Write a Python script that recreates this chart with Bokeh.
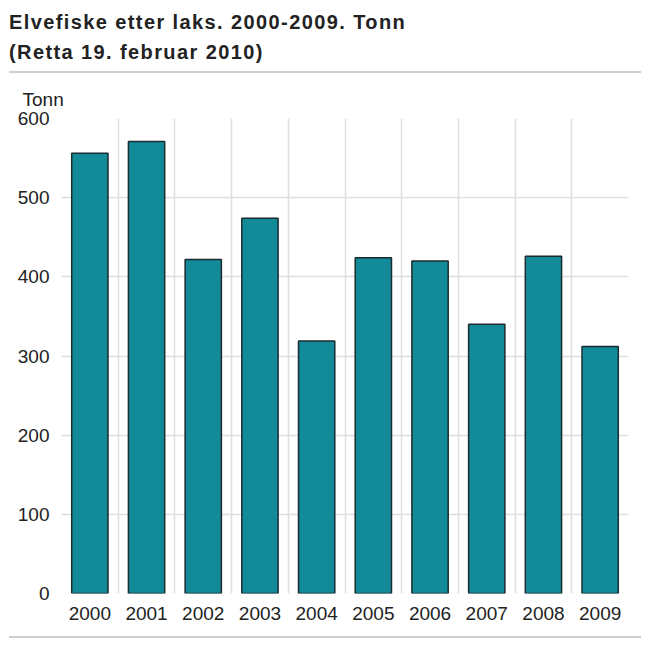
from bokeh.plotting import figure
from bokeh.models import Div, Range1d, FixedTicker, Title
from bokeh.layouts import column
from bokeh.embed import file_html
from bokeh.resources import INLINE
import numpy as np

# data
years = ["2000", "2001", "2002", "2003", "2004", "2005", "2006", "2007", "2008", "2009"]
tonn = [556, 571, 422, 474, 319, 424, 420, 340, 426, 312]
y_ticks = [0, 100, 200, 300, 400, 500, 600]

FONT = "Liberation Sans"
BAR = "#138a97"
GRID = "#dedee3"

# title block with the grey rule under it
title_html = (
    '<div style="position:relative;width:635px;height:68px;">'
    '<div style="position:absolute;left:4px;top:2px;font-family:\'Liberation Sans\';'
    'font-weight:bold;font-size:20px;line-height:30px;letter-spacing:1.4px;color:#222;white-space:nowrap;">'
    'Elvefiske etter laks. 2000-2009. Tonn<br>(Retta 19. februar 2010)</div>'
    '<div style="position:absolute;left:4px;top:66px;width:632px;height:2px;background:#cfcfcf;"></div>'
    '</div>'
)
head = Div(text=title_html, width=635, height=68)

p = figure(width=635, height=545, output_backend="svg", toolbar_location=None,
           x_range=Range1d(0, len(years)), y_range=Range1d(0, 600),
           min_border_left=61, min_border_right=7, min_border_top=37, min_border_bottom=30)

xs = np.arange(len(years)) + 0.5
p.vbar(x=xs, top=tonn, width=0.64, fill_color=BAR, line_color="#1c2b30", line_width=1.5)

# unit label above the axis
p.add_layout(Title(text="Tonn", align="left", offset=-39, standoff=17, text_font=FONT,
                   text_font_size="19px", text_font_style="normal", text_color="#222"), "above")

p.xaxis.ticker = FixedTicker(ticks=list(xs))
p.xaxis.major_label_overrides = {float(x): y for x, y in zip(xs, years)}
p.xaxis.major_label_standoff = 7
p.yaxis.ticker = FixedTicker(ticks=y_ticks)
p.yaxis.major_label_standoff = 6

for ax in (p.xaxis, p.yaxis):
    ax.axis_line_color = None
    ax.major_tick_line_color = None
    ax.minor_tick_line_color = None
    ax.major_label_text_font = FONT
    ax.major_label_text_font_size = "19px"
    ax.major_label_text_color = "#222"

p.xgrid.ticker = FixedTicker(ticks=list(range(len(years) + 1)))
p.ygrid.ticker = FixedTicker(ticks=y_ticks)
p.xgrid.grid_line_color = GRID
p.ygrid.grid_line_color = GRID
p.xgrid.grid_line_width = 1.5
p.ygrid.grid_line_width = 1.5
p.outline_line_color = None

foot = Div(text='<div style="position:relative;width:635px;height:20px;">'
                '<div style="position:absolute;left:4px;top:8px;width:632px;height:2px;background:#cfcfcf;"></div></div>',
           width=635, height=20)

layout = column(head, p, foot)
open("out.html", "w").write(file_html(layout, INLINE))
